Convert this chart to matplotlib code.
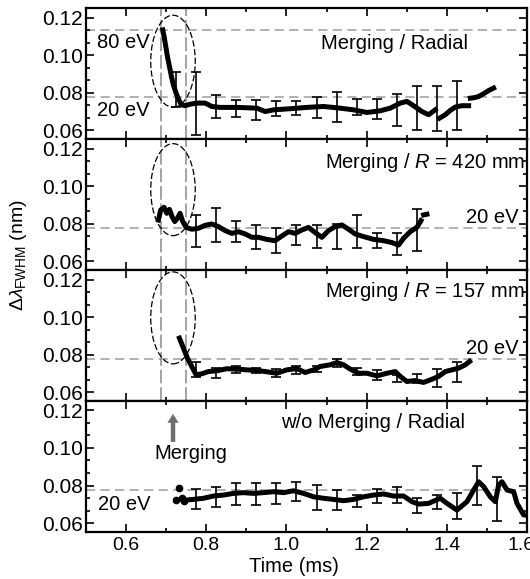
import numpy as np
import matplotlib
matplotlib.use('Agg')
import matplotlib.pyplot as plt
import matplotlib.transforms as mtransforms
from matplotlib.patches import Ellipse
from matplotlib.ticker import MultipleLocator, AutoMinorLocator, FormatStrFormatter

plt.rcParams['font.family'] = ['Liberation Sans', 'DejaVu Sans']
plt.rcParams['mathtext.fontset'] = 'custom'
plt.rcParams['mathtext.rm'] = 'Liberation Sans'
plt.rcParams['mathtext.it'] = 'Liberation Sans:italic'
plt.rcParams['mathtext.bf'] = 'Liberation Sans:bold'

nan = np.nan

# reference widths (nm)
w_20eV = 0.0776
w_80eV = 0.1133

# merging window (ms)
t_merge = [0.687, 0.75]

# Panel 1 : Merging / Radial
t1 = [0.6914, 0.6947, 0.6989, 0.7031, 0.7081, 0.7131, 0.7180, 0.7247, 0.7314, 0.7380,
      0.7472, 0.7596, 0.7763, 0.7971, 0.8137, 0.8345, 0.8761, 0.9261, 0.9469, 0.9677,
      1.0093, 1.0509, 1.0925, 1.1341, 1.1674, 1.2007, 1.2339, 1.2589, 1.2839, 1.3005,
      1.3171, 1.3380, 1.3546, 1.3712, nan,
      1.3821, 1.3962, 1.4087, 1.4212, 1.4378, 1.4544, nan,
      1.4586, 1.4711, 1.4794, 1.4919, 1.5044, 1.5168]
w1 = [0.1136, 0.1101, 0.1048, 0.0994, 0.0941, 0.0888, 0.0843, 0.0799, 0.0764, 0.0737,
      0.0732, 0.0740, 0.0746, 0.0746, 0.0728, 0.0723, 0.0723, 0.0719, 0.0701, 0.0710,
      0.0716, 0.0723, 0.0728, 0.0719, 0.0710, 0.0696, 0.0705, 0.0719, 0.0746, 0.0755,
      0.0732, 0.0701, 0.0684, 0.0710, nan,
      0.0666, 0.0684, 0.0707, 0.0725, 0.0732, 0.0732, nan,
      0.0772, 0.0776, 0.0781, 0.0796, 0.0813, 0.0826]
eb_t1 = [0.725, 0.775, 0.825, 0.875, 0.925, 0.975, 1.025, 1.075, 1.125, 1.175,
         1.225, 1.275, 1.325, 1.375, 1.425]
eb_w1 = [0.0817, 0.0744, 0.0728, 0.0717, 0.0710, 0.0716, 0.0719, 0.0724, 0.0724, 0.0726,
         0.0716, 0.0709, 0.0721, 0.0717, 0.0733]
eb_e1 = [0.0092, 0.0167, 0.0062, 0.0046, 0.0053, 0.0039, 0.0036, 0.0057, 0.0080, 0.0043,
         0.0053, 0.0085, 0.0117, 0.0121, 0.0133]

# Panel 2 : Merging / R = 420 mm
t2 = [0.6806, 0.6864, 0.6947, 0.7014, 0.7081, 0.7147, 0.7214, 0.7280, 0.7347, 0.7413,
      0.7497, 0.7638, 0.7805, 0.7971, 0.8137, 0.8304, 0.8470, 0.8637, 0.8803, 0.8969,
      0.9136, 0.9302, 0.9510, 0.9718, 0.9885, 1.0051, 1.0218, 1.0384, 1.0550, 1.0717,
      1.0883, 1.1050, 1.1216, 1.1382, 1.1549, 1.1715, 1.1923, 1.2173, 1.2423, 1.2631,
      1.2797, 1.2922, 1.3088, 1.3255, 1.3355, nan, 1.3421, 1.3504]
w2 = [0.0820, 0.0874, 0.0888, 0.0856, 0.0877, 0.0838, 0.0812, 0.0829, 0.0856, 0.0812,
      0.0781, 0.0771, 0.0776, 0.0792, 0.0799, 0.0785, 0.0764, 0.0749, 0.0758, 0.0746,
      0.0728, 0.0728, 0.0717, 0.0710, 0.0735, 0.0758, 0.0749, 0.0767, 0.0781, 0.0753,
      0.0728, 0.0764, 0.0785, 0.0794, 0.0771, 0.0746, 0.0732, 0.0717, 0.0710, 0.0700,
      0.0687, 0.0723, 0.0758, 0.0781, 0.0817, nan, 0.0847, 0.0851]
eb_t2 = [0.775, 0.825, 0.875, 0.925, 0.975, 1.025, 1.075, 1.125, 1.175, 1.225, 1.275, 1.325]
eb_w2 = [0.0763, 0.0794, 0.0761, 0.0729, 0.0711, 0.0740, 0.0732, 0.0732, 0.0758, 0.0709,
         0.0692, 0.0767]
eb_e2 = [0.0084, 0.0089, 0.0056, 0.0065, 0.0065, 0.0053, 0.0062, 0.0068, 0.0089, 0.0040,
         0.0058, 0.0110]

# Panel 3 : Merging / R = 157 mm
t3 = [0.7330, 0.7430, 0.7530, 0.7638, 0.7746, 0.7888, 0.8054, 0.8262, 0.8512, 0.8761,
      0.9011, 0.9261, 0.9469, 0.9760, 1.0009, 1.0259, 1.0467, 1.0675, 1.0842, 1.1091,
      1.1258, 1.1424, 1.1591, 1.1799, 1.2007, 1.2256, 1.2506, 1.2714, 1.2839, 1.3005,
      1.3213, 1.3421, 1.3629, 1.3796, 1.3962, 1.4129, 1.4295, 1.4461, 1.4569]
w3 = [0.0888, 0.0835, 0.0781, 0.0737, 0.0693, 0.0698, 0.0710, 0.0714, 0.0725, 0.0723,
      0.0719, 0.0716, 0.0710, 0.0701, 0.0719, 0.0726, 0.0705, 0.0719, 0.0737, 0.0746,
      0.0758, 0.0746, 0.0723, 0.0701, 0.0701, 0.0687, 0.0701, 0.0710, 0.0684, 0.0657,
      0.0662, 0.0652, 0.0669, 0.0684, 0.0710, 0.0719, 0.0728, 0.0746, 0.0764]
eb_t3 = [0.775, 0.825, 0.875, 0.925, 0.975, 1.025, 1.075, 1.125, 1.175, 1.225, 1.275,
         1.325, 1.375, 1.425]
eb_w3 = [0.0721, 0.0701, 0.0719, 0.0715, 0.0701, 0.0717, 0.0723, 0.0755, 0.0710, 0.0693,
         0.0672, 0.0673, 0.0675, 0.0710]
eb_e3 = [0.0039, 0.0027, 0.0018, 0.0013, 0.0021, 0.0020, 0.0018, 0.0021, 0.0018, 0.0027,
         0.0020, 0.0025, 0.0048, 0.0053]

# Panel 4 : w/o Merging / Radial
t4_dots = [0.7247, 0.7330, 0.7389, 0.7447]
w4_dots = [0.0723, 0.0785, 0.0732, 0.0719]
t4 = [0.7513, 0.7680, 0.7929, 0.8179, 0.8429, 0.8678, 0.8928, 0.9178, 0.9427, 0.9677,
      0.9926, 1.0176, 1.0426, 1.0675, 1.0925, 1.1174, 1.1424, 1.1674, 1.1923, 1.2173,
      1.2423, 1.2672, 1.2922, 1.3130, 1.3296, 1.3546, 1.3837, 1.4004, 1.4253, 1.4503,
      1.4669, 1.4794, 1.4919, 1.5085, 1.5210, 1.5293, 1.5377, 1.5502, 1.5668, 1.5751,
      1.5918, 1.6042]
w4 = [0.0723, 0.0726, 0.0732, 0.0744, 0.0749, 0.0758, 0.0762, 0.0758, 0.0762, 0.0767,
      0.0762, 0.0772, 0.0758, 0.0740, 0.0732, 0.0726, 0.0719, 0.0726, 0.0740, 0.0749,
      0.0755, 0.0744, 0.0744, 0.0714, 0.0701, 0.0705, 0.0732, 0.0705, 0.0669, 0.0714,
      0.0776, 0.0820, 0.0794, 0.0740, 0.0714, 0.0803, 0.0820, 0.0776, 0.0767, 0.0705,
      0.0643, 0.0643]
eb_t4 = [0.775, 0.825, 0.875, 0.925, 0.975, 1.025, 1.075, 1.125, 1.175, 1.225, 1.275,
         1.325, 1.375, 1.425, 1.475, 1.525]
eb_w4 = [0.0727, 0.0740, 0.0756, 0.0756, 0.0756, 0.0770, 0.0736, 0.0723, 0.0718, 0.0742,
         0.0748, 0.0692, 0.0711, 0.0691, 0.0800, 0.0728]
eb_e4 = [0.0054, 0.0053, 0.0060, 0.0060, 0.0055, 0.0051, 0.0067, 0.0053, 0.0031, 0.0037,
         0.0043, 0.0040, 0.0038, 0.0071, 0.0104, 0.0115]

# dashed ellipse around the merging phase
ell_t, ell_dt, ell_dw = 0.717, 0.111, 0.049
ell_w = [0.0969, 0.0982, 0.0996]

fig, axes = plt.subplots(4, 1, sharex=True, figsize=(5.3, 5.79), dpi=100)
fig.subplots_adjust(left=0.1623, right=0.9943, top=0.9857, bottom=0.0817, hspace=0)

series = [(t1, w1, eb_t1, eb_w1, eb_e1), (t2, w2, eb_t2, eb_w2, eb_e2),
          (t3, w3, eb_t3, eb_w3, eb_e3), (t4, w4, eb_t4, eb_w4, eb_e4)]

gray_h = '#9c9c9c'
gray_v = '#8a8a8a'

for i, ax in enumerate(axes):
    t, w, et, ew, ee = series[i]
    ax.axhline(w_20eV, color=gray_h, lw=1.1, dashes=(6, 3.5), zorder=1)
    if i < 3:
        for tm in t_merge:
            ax.axvline(tm, color=gray_v, lw=1.1, dashes=(9, 2.5), zorder=1)
        ax.add_patch(Ellipse((ell_t, ell_w[i]), ell_dt, ell_dw, fill=False,
                             ec='black', lw=0.9, ls=(0, (5, 2)), zorder=2))
    ax.plot(t, w, color='black', lw=3.6, zorder=3)
    ax.errorbar(et, ew, yerr=ee, fmt='none', ecolor='black', elinewidth=1.2,
                capsize=3.5, capthick=1.2, zorder=3)

    ax.set_xlim(0.5, 1.6)
    ax.set_ylim(0.0554, 0.1251)
    ax.set_yticks([0.06, 0.08, 0.10, 0.12])
    ax.yaxis.set_major_formatter(FormatStrFormatter('%.2f'))
    ax.yaxis.set_minor_locator(AutoMinorLocator(3))
    ax.xaxis.set_major_locator(MultipleLocator(0.2))
    ax.xaxis.set_minor_locator(MultipleLocator(0.1))
    ax.xaxis.set_major_formatter(FormatStrFormatter('%.1f'))
    ax.tick_params(which='both', direction='in', top=True, right=True, width=1.2)
    ax.tick_params(which='major', length=6)
    ax.tick_params(which='minor', length=3)
    ax.tick_params(axis='y', labelsize=15, pad=2)
    ax.tick_params(axis='x', labelsize=14, pad=4)
    for sp in ax.spines.values():
        sp.set_linewidth(1.6)

ax1, ax2, ax3, ax4 = axes
ax4.plot(t4_dots, w4_dots, 'o', color='black', ms=4.5)
ax1.axhline(w_80eV, color=gray_h, lw=1.1, dashes=(6, 3.5), zorder=1)

fs = 14.5
ax1.text(0.024, 0.694, '80 eV', transform=ax1.transAxes, fontsize=fs, va='baseline')
ax1.text(0.025, 0.179, '20 eV', transform=ax1.transAxes, fontsize=fs, va='baseline')
ax1.text(0.867, 0.687, 'Merging / Radial', transform=ax1.transAxes, fontsize=fs,
         ha='right', va='baseline')
ax2.text(0.995, 0.778, 'Merging / $R$ = 420 mm', transform=ax2.transAxes, fontsize=fs,
         ha='right', va='baseline')
ax2.text(0.98, 0.36, '20 eV', transform=ax2.transAxes, fontsize=fs, ha='right', va='baseline')
ax3.text(0.995, 0.796, 'Merging / $R$ = 157 mm', transform=ax3.transAxes, fontsize=fs,
         ha='right', va='baseline')
ax3.text(0.98, 0.36, '20 eV', transform=ax3.transAxes, fontsize=fs, ha='right', va='baseline')
ax4.text(0.859, 0.79, 'w/o Merging / Radial', transform=ax4.transAxes, fontsize=fs,
         ha='right', va='baseline')
ax4.text(0.027, 0.168, '20 eV', transform=ax4.transAxes, fontsize=fs, va='baseline')
ax4.text(0.237, 0.556, 'Merging', transform=ax4.transAxes, fontsize=fs,
         ha='center', va='baseline')
ax4.annotate('', xy=(0.717, 0.901), xycoords=('data', 'axes fraction'),
             xytext=(0.717, 0.686), textcoords=('data', 'axes fraction'),
             arrowprops=dict(facecolor='#6e6e6e', edgecolor='none', width=3.2,
                             headwidth=8, headlength=6.5, shrink=0))

fig.text(0.555, 0.022, 'Time (ms)', fontsize=fs, ha='center', va='center')
fig.text(0.034, 0.56, r'$\Delta\lambda_{\mathrm{FWHM}}$ (nm)', fontsize=14,
         rotation=90, ha='center', va='center')

# nudge the last time label (sits on the right spine) a little to the left
fig.canvas.draw()
for lab in ax4.get_xticklabels():
    if lab.get_text() == '1.6':
        lab.set_transform(lab.get_transform() +
                          mtransforms.ScaledTranslation(-4 / 72, 0, fig.dpi_scale_trans))

fig.savefig('out.png', dpi=100)
